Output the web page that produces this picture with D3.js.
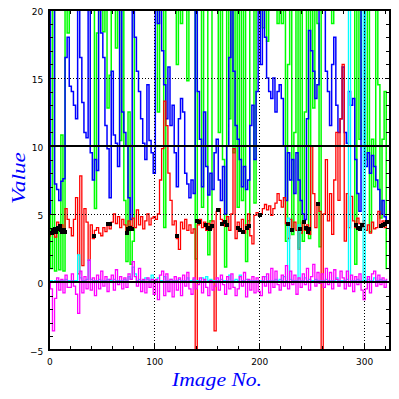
<!DOCTYPE html>
<html>
<head>
<meta charset="utf-8">
<script src="https://cdn.jsdelivr.net/npm/d3@7"></script>
<style>
  body { margin: 0; background: #fff; }
  svg { display: block; }
</style>
</head>
<body>
<svg id="chart" width="399" height="399"></svg>
<script>
// Image numbers, one sample every 2 frames
const images = d3.range(0, 324, 2);

// Series values (25 = off the top, -6 = off the bottom)
const blueVals = [
  5.0, 25, 25, 7.2, 6.8, 6.0, 7.4, 7.6, 16.5, 18.0,
  14.4, 14.0, 13.0, 12.0, 25, 16.5, 13.2, 11.0, 10.6, 25,
  9.5, 7.5, 9.0, 8.2, 25, 18.3, 16.5, 11.5, 9.8, 6.2,
  15.5, 10.8, 10.2, 8.5, 25, 12.5, 11.0, 10.0, 6.2, 4.6,
  25, 18.0, 15.5, 14.0, 12.0, 10.2, 9.0, 14.5, 10.4, 9.5,
  8.0, 25, 19.0, 25, 17.0, 14.5, 12.0, 15.8, 11.5, 13.0,
  9.5, 7.0, 12.0, 13.5, 12.5, 8.0, 7.2, 6.2, 7.5, 6.5,
  25, 14.0, 10.5, 7.0, 12.5, 8.5, 6.4, 8.0, 6.8, 9.5,
  10.5, 7.5, 6.0, 8.5, 5.0, 10.0, 16.5, 21, 15.5, 11.5,
  10.5, 9.0, 7.0, 8.5, 6.8, 7.5, 11.5, 13.0, 9.0, 14.0,
  21, 16.0, 21, 18.0, 15.0, 14.0, 13.5, 15.0, 12.5, 14.0,
  14.5, 13.5, 10.0, 6.0, 9.5, 7.5, 9.0, 6.5, 9.5, 7.5,
  6.0, 5.0, 4.6, 12.0, 18.5, 17.0, 15.5, 13.5, 14.5, 25,
  25, 20.5, 15.5, 14.0, 11.5, 16.0, 18.0, 13.0, 11.0, 12.0,
  15.8, 11.0, 10.2, 14.0, 13.0, 13.5, 9.0, 6.5, 5.2, 25,
  25, 8.5, 9.5, 8.0, 9.3, 8.5, 7.5, 6.8, 5.0, 6.0, 4.8, 4.5
];
const greenVals = [
  25, 1.0, 25, 0.8, 4.0, 0.9, 10.8, 0.8, 25, 18.3,
  25, 25, 25, 25, 25, 25, 25, 25, 25, 25,
  25, 25, 5.4, 18.3, 25, 25, 18.4, 25, 12.8, 15.2,
  25, 25, 17.2, 25, 10.4, 25, 6.0, 1.5, 12.5, 1.3,
  3.0, 25, 25, 25, 25, 25, 25, 25, 25, 25,
  25, 25, 12.5, 25, 25, 4.0, 25, 25, 25, 25,
  25, 16.0, 25, 19.0, 25, 25, 14.8, 25, 25, 25,
  1.7, 25, 25, 5.5, 25, 25, 2.0, 4.5, 25, 25,
  25, 11.0, 25, 9.0, 1.1, 25, 12.0, 25, 9.5, 25,
  5.5, 25, 6.0, 25, 1.5, 4.5, 25, 25, 5.8, 25,
  25, 25, 18.7, 25, 17.7, 25, 25, 25, 25, 19.0,
  25, 19.0, 25, 3.0, 16.0, 25, 3.5, 11.0, 25, 2.5,
  25, 3.0, 12.5, 25, 3.2, 25, 12.8, 25, 19.0, 2.6,
  25, 25, 25, 25, 25, 19.0, 25, 25, 25, 25,
  25, 25, 25, 25, 25, 25, 1.3, 25, 10.5, 25,
  25, 9.0, 25, 3.7, 10.5, 7.0, 25, 14.5, 4.7, 10.5, 14.0, 1.0
];
const redVals = [
  3.4, 3.6, 3.8, 3.3, 4.4, 3.9, 4.2, 3.8, 5.4, 4.6,
  4.0, 3.4, 4.6, 6.2, 0.6, 7.8, 1.2, 5.4, 4.4, 1.6,
  4.2, 3.2, 3.8, 4.0, 3.6, 3.4, 4.0, 3.7, 4.3, 3.9,
  4.4, 5.0, 4.3, 4.8, 4.0, 4.6, 4.2, 3.8, 4.5, 4.1,
  4.7, 4.0, 5.3, 4.2, 4.8, 3.9, 4.5, 5.0, 4.2, 4.7,
  4.8, 4.6, 5.0, 7.5, 9.8, 13.3, 11.5, 8.0, 6.0, 4.2,
  4.5, 3.2, 2.4, 4.4, 3.9, 4.6, 3.8, 4.2, 3.6, 3.9,
  -6, 4.2, 4.6, 4.0, 4.4, 3.8, 4.3, 3.9, 4.5, -3.6,
  5.2, 5.4, 4.6, 4.3, 4.1, 4.8, 3.8, 5.0, 9.8, 3.2,
  4.4, 3.8, 4.6, 3.6, 4.2, 5.0, 3.4, 2.8, 4.9, 5.1,
  4.9, 5.0, 5.4, 5.7, 5.3, 5.6, 4.9, 5.4, 5.8, 6.5,
  6.0, 5.5, 6.2, 4.3, 3.2, 4.6, 3.9, 4.4, 3.8, 2.4,
  3.6, 4.4, 3.8, 4.2, 3.5, 10.0, 6.5, 4.0, 5.7, 5.2,
  -6, 5.0, 9.0, 4.5, 6.5, 3.5, 7.5, 11.0, 6.0, 12.0,
  16.0, 3.0, 6.5, 4.0, 6.3, 4.5, 4.0, 4.7, 4.3, 4.0,
  4.5, 3.8, 4.2, 3.6, 4.4, 3.9, 4.0, 5.2, 4.2, 4.5, 4.0, 4.3
];
const cyanVals = [
  0.1, 0.1, 0.0, 0.1, 0.1, 0.1, 0.1, 0.1, 0.2, 0.1,
  0.1, 0.1, 0.1, 0.1, 2.0, 0.3, 0.1, 0.1, 0.2, 1.6,
  0.2, 0.1, 0.1, 0.1, 0.2, 0.1, 0.1, 0.1, 0.2, 0.1,
  0.1, 0.2, 0.1, 0.1, 0.1, 0.1, 0.2, 0.1, 0.4, 0.2,
  1.1, 0.6, 0.1, 0.2, 0.1, 0.1, 0.3, 0.2, 0.1, 0.5,
  0.1, 0.1, 0.3, 0.1, 0.1, 0.4, 0.1, 0.1, 0.2, 0.1,
  0.1, 0.1, 0.2, 0.1, 0.1, 0.1, 0.3, 0.1, 0.1, 0.2,
  0.1, 0.1, 0.1, 0.3, 0.1, 0.4, 0.1, 0.2, 0.1, 0.1,
  0.1, 0.1, 0.2, 0.1, 0.1, 0.1, 0.5, 0.1, 0.1, 0.2,
  0.1, 0.5, 0.1, 0.1, 0.2, 0.1, 0.1, 0.1, 0.1, 0.1,
  0.1, 0.1, 0.1, 0.4, 0.1, 0.1, 0.1, 0.1, 0.2, 0.1,
  0.2, 0.1, 0.4, 0.1, 4.7, 0.2, 0.1, 0.1, 0.1, 4.2,
  0.1, 0.1, 0.3, 0.1, 0.2, 0.1, 0.1, 0.2, 0.1, 0.1,
  0.1, 0.1, 0.2, 0.1, 0.1, 0.1, 0.1, 0.3, 0.1, 0.1,
  0.1, 0.1, 0.2, 25, 0.1, 0.1, 0.1, 0.2, 0.1, 0.1,
  25, 0.1, 0.2, 0.1, 0.1, 0.3, 0.1, 0.1, 0.2, 0.1, 0.1, 0.1
];
const magentaVals = [
  0.0, -0.5, -3.6, -1.2, 0.3, -0.6, 0.2, -0.8, 0.5, -0.4,
  -0.4, 0.6, -0.3, -0.9, -2.3, 0.8, -0.8, 0.4, -0.5, 1.6,
  -0.6, 0.3, -1.0, 0.5, -0.5, 0.8, -0.3, 0.4, -0.7, 0.2,
  0.5, -0.6, 0.9, -0.2, 0.4, -0.5, 0.3, -0.4, 0.6, 0.2,
  1.5, 0.4, -0.3, 1.0, -0.7, 0.2, -0.8, 0.3, -0.4, 0.2,
  -0.9, 0.2, -1.3, 0.5, 0.8, -1.0, 0.6, -0.7, 0.2, -1.1,
  0.4, -0.6, 0.3, -1.0, 0.5, -0.3, 0.7, -0.5, -0.9, 0.3,
  -0.5, -0.2, 0.3, -0.8, 0.2, -0.4, -1.0, 0.1, -0.6, -0.3,
  0.3, -0.6, 0.5, -0.2, -0.9, 0.4, -0.5, 0.6, -0.4, -1.0,
  -0.5, 0.4, -0.3, 0.7, -1.1, 0.2, -0.6, 0.4, -0.8, 0.3,
  -0.7, -1.0, 0.4, -0.3, 0.6, -0.8, 1.0, -0.4, 0.8, -0.2,
  -0.6, 0.5, -0.3, 1.2, -0.5, 0.8, -0.2, 0.5, -0.9, 0.3,
  -0.4, 0.6, -0.2, 1.0, -0.6, 0.4, 1.3, -0.3, 0.7, -0.1,
  0.6, -0.4, 1.0, -0.2, 0.7, -0.5, 0.9, 0.2, -0.3, 0.8,
  0.3, -0.5, 0.8, -0.3, 0.5, -0.7, 0.4, -0.2, 0.6, -0.6,
  -1.3, -0.5, 0.4, -0.8, 0.6, 0.8, -0.3, 0.5, -0.2, 0.3, -0.4, 0.2
];
// black markers: [image, value]
const dotPoints = [
  [3,3.6],[4,3.8],[5,3.9],[6,3.7],[8,4.0],[9,3.9],[10,4.1],[11,3.8],[12,3.7],[14,3.8],[15,3.7],
  [43,3.4],[56,4.3],[58,4.3],[74,3.6],[75,3.9],[77,4.0],[79,3.9],[122,3.4],[141,4.5],[143,4.4],
  [149,4.2],[151,4.0],[153,3.9],[155,4.1],[161,5.3],[165,4.3],[167,4.4],[169,4.2],[180,4.0],
  [182,3.8],[185,3.7],[188,4.0],[190,4.1],[201,4.9],[227,4.3],[231,3.8],[239,3.9],[243,4.4],
  [245,4.0],[246,3.7],[247,3.9],[256,5.7],[292,4.2],[294,4.0],[296,3.9],[298,4.2],[316,4.1],
  [318,4.2],[320,4.3],[322,4.4]
];

// axis and grid values
const xTicks = [0, 100, 200, 300];
const yTicks = [-5, 0, 5, 10, 15, 20];
const dottedX = [100, 200, 300];
const dottedY = [5, 15];
const solidY = [0, 10];

const svg = d3.select('#chart');
const pLeft = 49.3, pRight = 390, pTop = 10, pBottom = 350;

const x = d3.scaleLinear().domain([0, 324.6]).range([pLeft, pRight]);
const y = d3.scaleLinear().domain([-5, 20]).range([pBottom, pTop]);

svg.append('clipPath').attr('id', 'clip')
  .append('rect')
  .attr('x', pLeft).attr('y', pTop)
  .attr('width', pRight - pLeft).attr('height', pBottom - pTop);

// Data lines
const plot = svg.append('g').attr('clip-path', 'url(#clip)');
const line = d3.line()
  .x((d, i) => x(images[i]))
  .y(d => y(d))
  .curve(d3.curveStep);

const series = [
  { vals: greenVals, color: '#00ff00', w: 1.5 },
  { vals: blueVals, color: '#0000ff', w: 1.5 },
  { vals: redVals, color: '#ff0000', w: 1.3 },
  { vals: cyanVals, color: '#00ffff', w: 1.3 },
  { vals: magentaVals, color: '#ff00ff', w: 1.3 }
];
series.forEach(s => {
  plot.append('path')
    .datum(s.vals)
    .attr('fill', 'none')
    .attr('stroke', s.color)
    .attr('stroke-width', s.w)
    .attr('d', line);
});

// Reference lines
const grid = svg.append('g').attr('shape-rendering', 'crispEdges');
grid.selectAll('.gx').data(dottedX).join('line')
  .attr('x1', d => Math.round(x(d)) + 0.5).attr('x2', d => Math.round(x(d)) + 0.5)
  .attr('y1', pTop).attr('y2', pBottom)
  .attr('stroke', '#000').attr('stroke-width', 1)
  .attr('stroke-dasharray', '1,2');
grid.selectAll('.gy').data(dottedY).join('line')
  .attr('x1', pLeft).attr('x2', pRight)
  .attr('y1', d => y(d) + 0.5).attr('y2', d => y(d) + 0.5)
  .attr('stroke', '#000').attr('stroke-width', 1)
  .attr('stroke-dasharray', '1,2');
grid.selectAll('.sy').data(solidY).join('line')
  .attr('x1', pLeft).attr('x2', pRight)
  .attr('y1', d => y(d)).attr('y2', d => y(d))
  .attr('stroke', '#000').attr('stroke-width', 2);

// Black markers
plot.selectAll('rect.dot').data(dotPoints).join('rect')
  .attr('class', 'dot')
  .attr('x', d => Math.round(x(d[0]) - 2)).attr('y', d => Math.round(y(d[1]) - 2))
  .attr('width', 4).attr('height', 4)
  .attr('fill', '#000');

// Axes (ticks point inward)
const tickFont = g => g.selectAll('text')
  .attr('font-family', 'DejaVu Sans, sans-serif')
  .attr('font-size', 9).attr('fill', '#000');
const crisp = g => g.attr('shape-rendering', 'crispEdges');

const minorX = d3.range(0, 325, 20);
const minorY = d3.range(-5, 21, 1);

svg.append('g').attr('transform', `translate(0,${pBottom})`)
  .call(d3.axisBottom(x).tickValues(minorX).tickSize(-4).tickFormat(''))
  .call(g => g.select('.domain').remove()).call(crisp);
svg.append('g').attr('transform', `translate(0,${pTop})`)
  .call(d3.axisTop(x).tickValues(minorX).tickSize(-4).tickFormat(''))
  .call(g => g.select('.domain').remove()).call(crisp);
svg.append('g').attr('transform', `translate(0,${pBottom})`)
  .call(d3.axisBottom(x).tickValues(xTicks).tickSize(-6).tickPadding(9))
  .call(g => g.select('.domain').remove())
  .call(tickFont).call(crisp);

svg.append('g').attr('transform', `translate(${pLeft},0)`)
  .call(d3.axisLeft(y).tickValues(minorY).tickSize(-4).tickFormat(''))
  .call(g => g.select('.domain').remove()).call(crisp);
svg.append('g').attr('transform', `translate(${pRight},0)`)
  .call(d3.axisRight(y).tickValues(minorY).tickSize(-4).tickFormat(''))
  .call(g => g.select('.domain').remove()).call(crisp);
svg.append('g').attr('transform', `translate(${pLeft},0)`)
  .call(d3.axisLeft(y).tickValues(yTicks).tickSize(-6).tickPadding(6))
  .call(g => g.select('.domain').remove())
  .call(tickFont).call(crisp)
  .call(g => g.selectAll('text').attr('dy', '0.55em'));

// Frame
svg.append('rect')
  .attr('x', pLeft).attr('y', pTop)
  .attr('width', pRight - pLeft).attr('height', pBottom - pTop)
  .attr('fill', 'none').attr('stroke', '#000').attr('stroke-width', 2)
  .attr('shape-rendering', 'crispEdges');

// Titles
svg.append('text')
  .attr('x', 217).attr('y', 386)
  .attr('text-anchor', 'middle')
  .attr('font-family', 'Liberation Serif, serif')
  .attr('font-style', 'italic')
  .attr('font-size', 18)
  .attr('fill', '#0000ff')
  .attr('textLength', 90).attr('lengthAdjust', 'spacingAndGlyphs')
  .text('Image No.');

svg.append('text')
  .attr('transform', 'translate(25,178) rotate(-90)')
  .attr('text-anchor', 'middle')
  .attr('font-family', 'Liberation Serif, serif')
  .attr('font-style', 'italic')
  .attr('font-size', 18)
  .attr('fill', '#0000ff')
  .attr('textLength', 52).attr('lengthAdjust', 'spacingAndGlyphs')
  .text('Value');
</script>
</body>
</html>
